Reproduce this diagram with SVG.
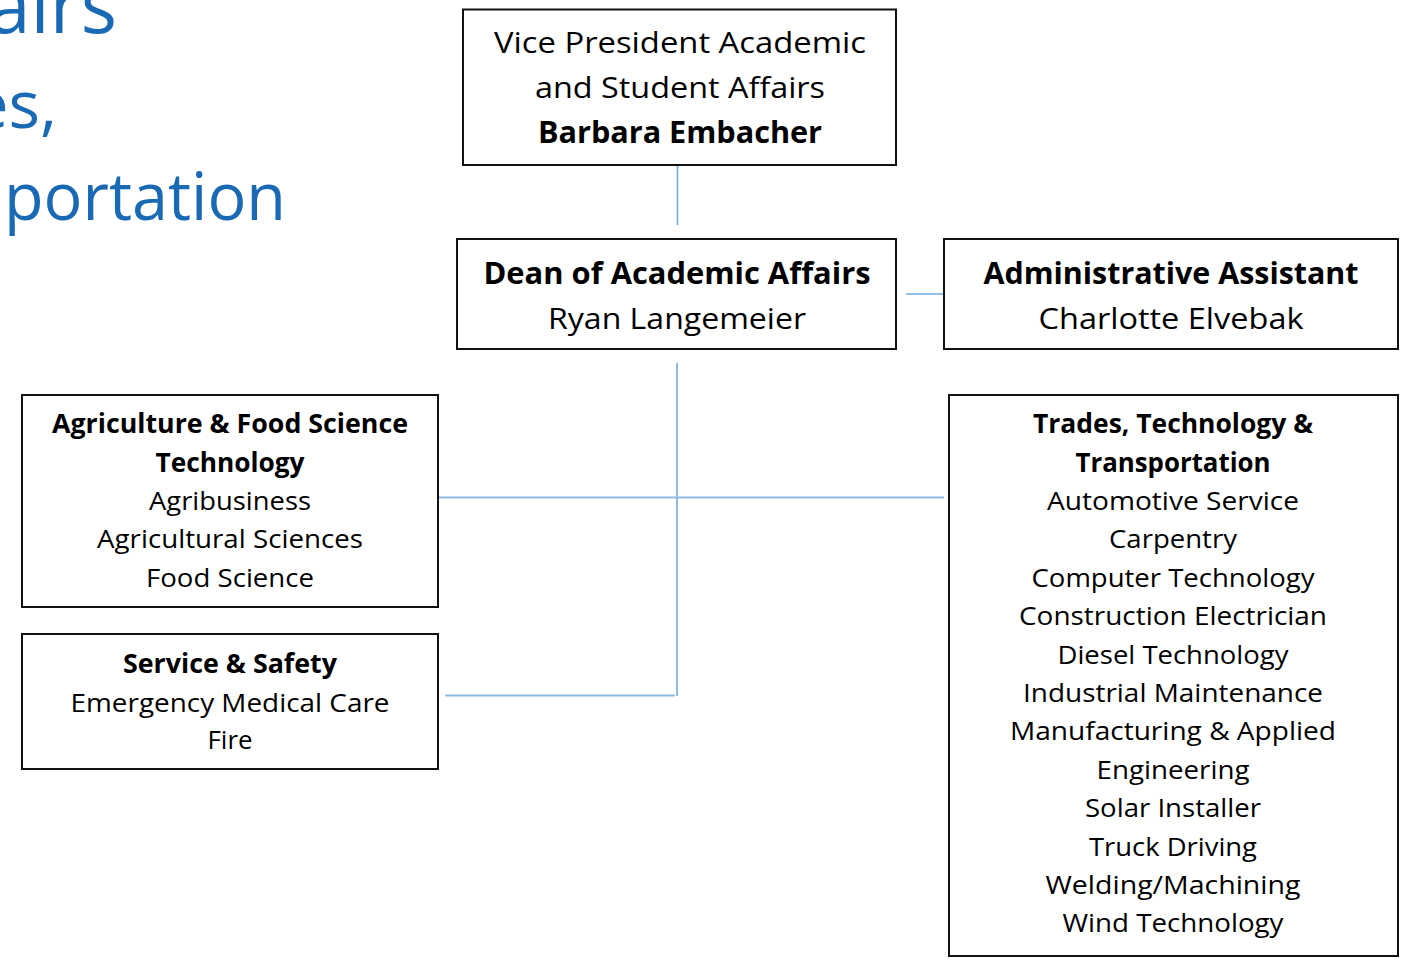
<svg xmlns="http://www.w3.org/2000/svg" width="1410" height="959" viewBox="0 0 1410 959">
<style>
.box{fill:#fff;stroke:#111;stroke-width:2}
.t{font-family:"Open Sans","Noto Sans","Liberation Sans",sans-serif;fill:#000;text-anchor:middle}
.l{font-size:30px}
.s{font-size:26px}
.b{font-weight:bold}
.title{font-family:"Open Sans","Noto Sans","Liberation Sans",sans-serif;fill:#1a69b5;text-anchor:end}
.c1{stroke:#6fa8dc;stroke-width:1.6;fill:none}
.c2{stroke:#8ebae4;stroke-width:2;fill:none}
</style>
<rect width="1410" height="959" fill="#fff"/>
<g id="title">
<text class="title" x="117" y="33" font-size="76">airs</text>
<text class="title" x="57" y="128" font-size="66">es,</text>
<text class="title" x="288" y="220" font-size="66" style="text-anchor:start" dx="-284" textLength="282" lengthAdjust="spacingAndGlyphs">portation</text>
</g>
<g id="connectors">
<line class="c1" x1="677.5" y1="165" x2="677.5" y2="225"/>
<line class="c1" x1="906" y1="294" x2="943" y2="294"/>
<line class="c2" x1="677" y1="363" x2="677" y2="696"/>
<line class="c2" x1="439" y1="497.5" x2="944" y2="497.5"/>
<line class="c2" x1="445" y1="695.5" x2="675" y2="695.5"/>
</g>
<g id="vp">
<rect class="box" x="463" y="9.5" width="433" height="155.5"/>
<text class="t l" x="680" y="53" textLength="372" lengthAdjust="spacingAndGlyphs">Vice President Academic</text>
<text class="t l" x="680" y="98" textLength="290" lengthAdjust="spacingAndGlyphs">and Student Affairs</text>
<text class="t l b" x="680" y="143" textLength="284" lengthAdjust="spacingAndGlyphs">Barbara Embacher</text>
</g>
<g id="dean">
<rect class="box" x="457" y="239" width="439" height="110"/>
<text class="t l b" x="677" y="284" textLength="387" lengthAdjust="spacingAndGlyphs">Dean of Academic Affairs</text>
<text class="t l" x="677" y="329" textLength="258" lengthAdjust="spacingAndGlyphs">Ryan Langemeier</text>
</g>
<g id="admin">
<rect class="box" x="944" y="239" width="454" height="110"/>
<text class="t l b" x="1171" y="284" textLength="375" lengthAdjust="spacingAndGlyphs">Administrative Assistant</text>
<text class="t l" x="1171" y="329" textLength="265" lengthAdjust="spacingAndGlyphs">Charlotte Elvebak</text>
</g>
<g id="agri">
<rect class="box" x="22" y="395" width="416" height="212"/>
<text class="t s b" x="230" y="433" textLength="356" lengthAdjust="spacingAndGlyphs">Agriculture &amp; Food Science</text>
<text class="t s b" x="230" y="472" textLength="149" lengthAdjust="spacingAndGlyphs">Technology</text>
<text class="t s" x="230" y="510" textLength="162" lengthAdjust="spacingAndGlyphs">Agribusiness</text>
<text class="t s" x="230" y="548" textLength="266" lengthAdjust="spacingAndGlyphs">Agricultural Sciences</text>
<text class="t s" x="230" y="587" textLength="168" lengthAdjust="spacingAndGlyphs">Food Science</text>
</g>
<g id="service">
<rect class="box" x="22" y="634" width="416" height="135"/>
<text class="t s b" x="230" y="673" textLength="214" lengthAdjust="spacingAndGlyphs">Service &amp; Safety</text>
<text class="t s" x="230" y="712" textLength="319" lengthAdjust="spacingAndGlyphs">Emergency Medical Care</text>
<text class="t s" x="230" y="749" textLength="45" lengthAdjust="spacingAndGlyphs">Fire</text>
</g>
<g id="trades">
<rect class="box" x="949" y="395" width="449" height="561"/>
<text class="t s b" x="1173" y="433" textLength="280" lengthAdjust="spacingAndGlyphs">Trades, Technology &amp;</text>
<text class="t s b" x="1173" y="472" textLength="195" lengthAdjust="spacingAndGlyphs">Transportation</text>
<text class="t s" x="1173" y="510" textLength="252" lengthAdjust="spacingAndGlyphs">Automotive Service</text>
<text class="t s" x="1173" y="548" textLength="128" lengthAdjust="spacingAndGlyphs">Carpentry</text>
<text class="t s" x="1173" y="587" textLength="283" lengthAdjust="spacingAndGlyphs">Computer Technology</text>
<text class="t s" x="1173" y="625" textLength="308" lengthAdjust="spacingAndGlyphs">Construction Electrician</text>
<text class="t s" x="1173" y="664" textLength="231" lengthAdjust="spacingAndGlyphs">Diesel Technology</text>
<text class="t s" x="1173" y="702" textLength="300" lengthAdjust="spacingAndGlyphs">Industrial Maintenance</text>
<text class="t s" x="1173" y="740" textLength="326" lengthAdjust="spacingAndGlyphs">Manufacturing &amp; Applied</text>
<text class="t s" x="1173" y="779" textLength="153" lengthAdjust="spacingAndGlyphs">Engineering</text>
<text class="t s" x="1173" y="817" textLength="176" lengthAdjust="spacingAndGlyphs">Solar Installer</text>
<text class="t s" x="1173" y="856" textLength="168" lengthAdjust="spacingAndGlyphs">Truck Driving</text>
<text class="t s" x="1173" y="894" textLength="255" lengthAdjust="spacingAndGlyphs">Welding/Machining</text>
<text class="t s" x="1173" y="932" textLength="221" lengthAdjust="spacingAndGlyphs">Wind Technology</text>
</g>
</svg>
